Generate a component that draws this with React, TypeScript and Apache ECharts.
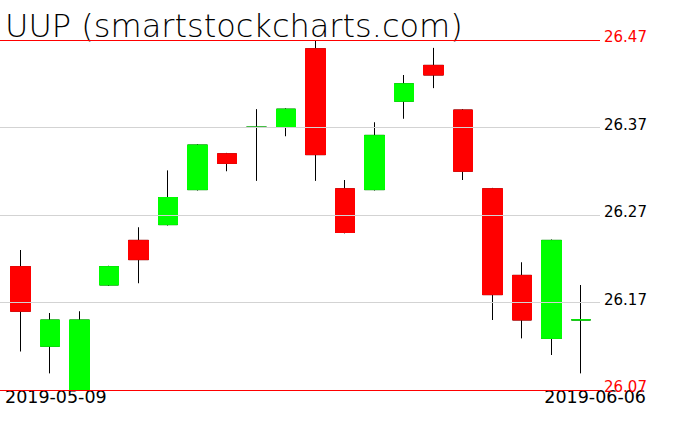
import React, { useEffect, useRef } from "react";
import * as echarts from "echarts";

const dates = [
  "2019-05-09", "2019-05-10", "2019-05-13", "2019-05-14", "2019-05-15",
  "2019-05-16", "2019-05-17", "2019-05-20", "2019-05-21", "2019-05-22",
  "2019-05-23", "2019-05-24", "2019-05-28", "2019-05-29", "2019-05-30",
  "2019-05-31", "2019-06-03", "2019-06-04", "2019-06-05", "2019-06-06",
];
const opens = [
  26.211, 26.12, 26.07, 26.19, 26.241, 26.259, 26.299, 26.34, 26.3702, 26.37,
  26.46, 26.3, 26.299, 26.4, 26.441, 26.39, 26.3, 26.201, 26.129, 26.15,
];
const closes = [
  26.16, 26.15, 26.15, 26.211, 26.219, 26.29, 26.35, 26.329, 26.3704, 26.391,
  26.339, 26.25, 26.361, 26.42, 26.43, 26.32, 26.179, 26.15, 26.241, 26.1502,
];
const lows = [
  26.114, 26.089, 26.07, 26.189, 26.192, 26.258, 26.298, 26.32, 26.309, 26.36,
  26.309, 26.249, 26.298, 26.38, 26.415, 26.31, 26.15, 26.129, 26.11, 26.089,
];
const highs = [
  26.23, 26.158, 26.16, 26.212, 26.256, 26.321, 26.351, 26.341, 26.391, 26.392,
  26.47, 26.31, 26.376, 26.43, 26.461, 26.391, 26.301, 26.216, 26.242, 26.19,
];
const yMin = 26.07;
const yMax = 26.47;
const yStep = 0.1;
const title = "UUP (smartstockcharts.com)";

export default function App() {
  const ref = useRef<HTMLDivElement>(null);
  useEffect(() => {
    if (!ref.current) return;
    const chart = echarts.init(ref.current, undefined, { renderer: "svg" });
    const full = dates.map((_, i) => [opens[i], closes[i], lows[i], highs[i]]);
    const bodies = dates.map((_, i) => [
      opens[i],
      closes[i],
      Math.min(opens[i], closes[i]),
      Math.max(opens[i], closes[i]),
    ]);
    const gridTop = 40;
    const gridBottom = 41;
    chart.setOption({
      animation: false,
      backgroundColor: "#ffffff",
      title: {
        text: title,
        left: 0,
        top: 5,
        textStyle: {
          fontFamily: "DejaVu Sans",
          fontSize: 32,
          fontWeight: 200,
          color: "#000000",
        },
      },
      grid: [
        { left: 5.75, right: 80.25, top: gridTop, bottom: gridBottom },
        { left: 0, right: 76, top: gridTop, bottom: gridBottom },
      ],
      xAxis: [
        { type: "category", gridIndex: 0, data: dates, show: false, boundaryGap: true },
        { type: "value", gridIndex: 1, min: 0, max: 1, show: false },
      ],
      yAxis: [
        { type: "value", gridIndex: 0, min: yMin, max: yMax, show: false },
        {
          type: "value",
          gridIndex: 1,
          min: yMin,
          max: yMax,
          interval: yStep,
          position: "right",
          z: 10,
          axisLine: { show: false },
          axisTick: { show: false },
          splitLine: {
            show: true,
            lineStyle: {
              color: ["#ff0000", "#d3d3d3", "#d3d3d3", "#d3d3d3", "#ff0000"],
              width: 1,
            },
          },
          axisLabel: {
            margin: 4,
            verticalAlign: "bottom",
            fontFamily: "DejaVu Sans",
            fontSize: 15,
            lineHeight: 6,
            formatter: (v: number) => {
              const s = v.toFixed(2);
              const edge = Math.abs(v - yMin) < 1e-6 || Math.abs(v - yMax) < 1e-6;
              return edge ? `{r|${s}}` : `{k|${s}}`;
            },
            rich: {
              r: { color: "#ff0000", fontFamily: "DejaVu Sans", fontSize: 15, lineHeight: 6 },
              k: { color: "#000000", fontFamily: "DejaVu Sans", fontSize: 15, lineHeight: 6 },
            },
          },
        },
      ],
      series: [
        {
          type: "candlestick",
          xAxisIndex: 0,
          yAxisIndex: 0,
          data: full,
          barWidth: 20,
          itemStyle: {
            color: "transparent",
            color0: "transparent",
            borderColor: "#000000",
            borderColor0: "#000000",
            borderColorDoji: "#000000",
            borderWidth: 1,
          },
        },
        {
          type: "candlestick",
          xAxisIndex: 0,
          yAxisIndex: 0,
          data: bodies,
          barWidth: 20,
          itemStyle: {
            color: "#00ff00",
            color0: "#ff0000",
            borderColor: "#00ff00",
            borderColor0: "#ff0000",
            borderWidth: 1,
          },
        },
      ],
      graphic: [
        {
          type: "text",
          left: 5,
          top: 388,
          style: {
            text: dates[0],
            fontFamily: "DejaVu Sans",
            fontSize: 17.5,
            fill: "#000000",
          },
        },
        {
          type: "text",
          right: 676 - 646,
          top: 388,
          style: {
            text: dates[dates.length - 1],
            fontFamily: "DejaVu Sans",
            fontSize: 17.5,
            fill: "#000000",
          },
        },
      ],
    });
    return () => chart.dispose();
  }, []);
  return (
    <div
      ref={ref}
      style={{ position: "fixed", left: 0, top: 0, width: 676, height: 431 }}
    />
  );
}
